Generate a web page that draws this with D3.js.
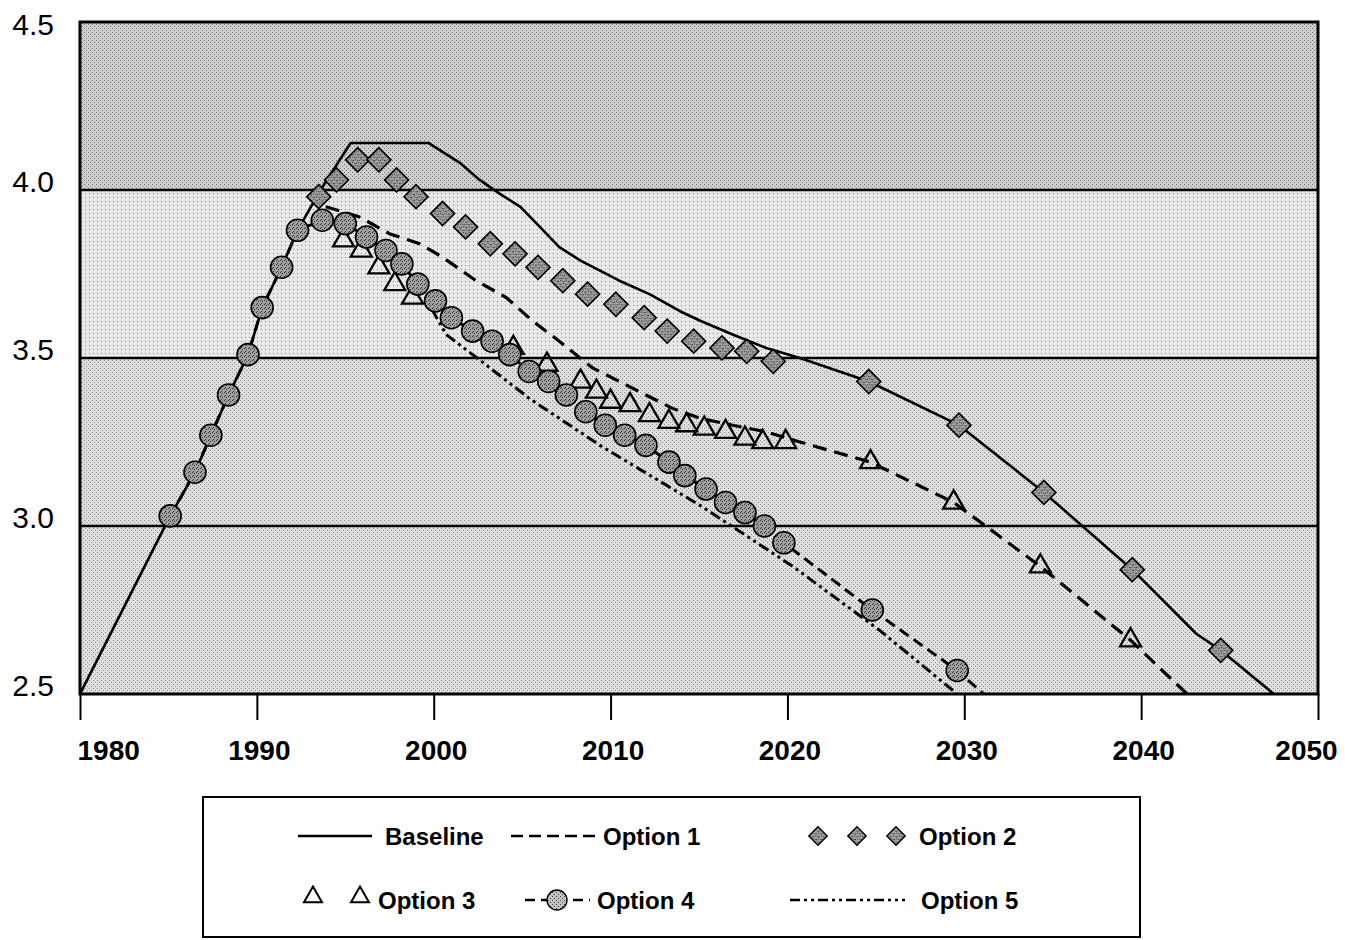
<!DOCTYPE html>
<html><head><meta charset="utf-8">
<script src="https://cdn.jsdelivr.net/npm/d3@7"></script>
<style>html,body{margin:0;padding:0;background:#fff;} svg{display:block;}</style>
</head><body>
<svg id="chart" width="1345" height="940"></svg>
<script>
// ---------------- data ----------------
const xTicks = [1980, 1990, 2000, 2010, 2020, 2030, 2040, 2050];
const yTicks = [2.5, 3.0, 3.5, 4.0, 4.5];
const yTickLabels = ["2.5", "3.0", "3.5", "4.0", "4.5"];
const seriesNames = ["Baseline", "Option 1", "Option 2", "Option 3", "Option 4", "Option 5"];

const baselineYears  = [1980, 1985.1, 1986.5, 1987.4, 1988.4, 1989.5, 1990.3, 1991.4, 1992.3, 1993.6, 1995.3, 1999.7, 2001.5, 2002.6, 2003.7, 2004.9, 2006.0, 2007.1, 2008.3, 2009.4, 2010.5, 2012.2, 2013.9, 2015.1, 2016.9, 2018.8, 2020.7, 2024.6, 2029.7, 2034.5, 2039.5, 2043.1, 2044.5, 2047.5];
const baselineValues = [2.50, 3.03, 3.16, 3.27, 3.39, 3.51, 3.65, 3.77, 3.88, 4.00, 4.14, 4.14, 4.08, 4.03, 3.99, 3.95, 3.89, 3.83, 3.79, 3.76, 3.73, 3.69, 3.64, 3.61, 3.57, 3.53, 3.50, 3.43, 3.30, 3.10, 2.87, 2.68, 2.63, 2.50];

const option1Years  = [1993.9, 1995.8, 1997.5, 1999.2, 2000.5, 2002.4, 2004.1, 2005.6, 2007.1, 2009.0, 2010.5, 2012.0, 2013.5, 2015.1, 2016.9, 2018.8, 2020.7, 2024.7, 2029.4, 2034.3, 2039.4, 2042.6];
const option1Values = [3.95, 3.92, 3.87, 3.84, 3.80, 3.73, 3.68, 3.61, 3.55, 3.47, 3.43, 3.39, 3.35, 3.32, 3.30, 3.28, 3.25, 3.19, 3.07, 2.88, 2.66, 2.50];

const option2Years  = [1993.5, 1994.5, 1995.7, 1996.9, 1997.9, 1999.0, 2000.5, 2001.8, 2003.2, 2004.6, 2005.9, 2007.3, 2008.7, 2010.3, 2011.9, 2013.2, 2014.7, 2016.3, 2017.7, 2019.2, 2024.6, 2029.7, 2034.5, 2039.5, 2044.5];
const option2Values = [3.98, 4.03, 4.09, 4.09, 4.03, 3.98, 3.93, 3.89, 3.84, 3.81, 3.77, 3.73, 3.69, 3.66, 3.62, 3.58, 3.55, 3.53, 3.52, 3.49, 3.43, 3.30, 3.10, 2.87, 2.63];

const option3Years  = [1994.9, 1995.9, 1996.9, 1997.8, 1998.8, 2004.5, 2006.4, 2008.3, 2009.2, 2010.0, 2011.1, 2012.2, 2013.3, 2014.3, 2015.3, 2016.5, 2017.6, 2018.6, 2019.9, 2024.7, 2029.4, 2034.3, 2039.4];
const option3Values = [3.85, 3.82, 3.77, 3.72, 3.68, 3.53, 3.48, 3.43, 3.40, 3.37, 3.36, 3.33, 3.31, 3.30, 3.29, 3.28, 3.26, 3.25, 3.25, 3.19, 3.07, 2.88, 2.66];

const option4Years  = [1985.1, 1986.5, 1987.4, 1988.4, 1989.5, 1990.3, 1991.4, 1992.3, 1993.7, 1995.0, 1996.2, 1997.3, 1998.2, 1999.1, 2000.1, 2001.0, 2002.2, 2003.3, 2004.3, 2005.4, 2006.5, 2007.5, 2008.6, 2009.7, 2010.8, 2012.0, 2013.3, 2014.2, 2015.4, 2016.5, 2017.6, 2018.7, 2019.8, 2024.8, 2029.6];
const option4Values = [3.03, 3.16, 3.27, 3.39, 3.51, 3.65, 3.77, 3.88, 3.91, 3.90, 3.86, 3.82, 3.78, 3.72, 3.67, 3.62, 3.58, 3.55, 3.51, 3.46, 3.43, 3.39, 3.34, 3.30, 3.27, 3.24, 3.19, 3.15, 3.11, 3.07, 3.04, 3.00, 2.95, 2.75, 2.57];
const option4LineEnd = [2031.1, 2.50];

const option5Years  = [1999.1, 2000.7, 2002.7, 2005.4, 2009.4, 2015.1, 2020.3, 2025.2, 2029.6];
const option5Values = [3.72, 3.57, 3.49, 3.38, 3.24, 3.06, 2.88, 2.69, 2.50];

// ---------------- chart ----------------
const svg = d3.select('#chart');
const M = {left: 80, right: 1318, top: 22, bottom: 694};
const x = d3.scaleLinear().domain([xTicks[0], xTicks[xTicks.length - 1]]).range([M.left, M.right]);
const y = d3.scaleLinear().domain([yTicks[0], yTicks[yTicks.length - 1]]).range([M.bottom, M.top]);
const zip = (a, b) => a.map((v, i) => [v, b[i]]);

const defs = svg.append('defs');
function makePattern(id, base, dots, dotColor) {
  const p = defs.append('pattern').attr('id', id).attr('width', 4).attr('height', 4)
    .attr('patternUnits', 'userSpaceOnUse');
  p.append('rect').attr('width', 4).attr('height', 4).attr('fill', base);
  dots.forEach(([dx, dy]) => p.append('rect').attr('x', dx).attr('y', dy)
    .attr('width', 1).attr('height', 1).attr('fill', dotColor));
}
makePattern('bandDense', '#d0d0d0', [[0, 0], [2, 2]], '#707070');
makePattern('bandLight', '#e8e8e8', [[1, 1]], '#888');
makePattern('bandMed', '#dedede', [[0, 0], [2, 2]], '#8a8a8a');
makePattern('bandMed2', '#e0e0e0', [[1, 0], [3, 2]], '#8a8a8a');
makePattern('markTex', '#a0a0a0', [[0, 0], [2, 1], [1, 3]], '#333');
makePattern('markTexLight', '#c2c2c2', [[0, 0], [2, 2]], '#444');

defs.append('clipPath').attr('id', 'plotClip').append('rect')
  .attr('x', M.left).attr('y', M.top).attr('width', M.right - M.left).attr('height', M.bottom - M.top);

// background bands
const bandFills = ['url(#bandMed2)', 'url(#bandMed)', 'url(#bandLight)', 'url(#bandDense)'];
svg.append('g').selectAll('rect').data(d3.range(yTicks.length - 1)).join('rect')
  .attr('x', M.left).attr('width', M.right - M.left)
  .attr('y', i => y(yTicks[i + 1])).attr('height', i => y(yTicks[i]) - y(yTicks[i + 1]))
  .attr('fill', i => bandFills[i]);

// gridlines
svg.append('g').selectAll('line').data(yTicks.slice(1, -1)).join('line')
  .attr('x1', M.left).attr('x2', M.right).attr('y1', d => y(d)).attr('y2', d => y(d))
  .attr('stroke', '#000').attr('stroke-width', 2.6);

// lines
const line = d3.line().x(d => x(d[0])).y(d => y(d[1]));
const plot = svg.append('g').attr('clip-path', 'url(#plotClip)');
const dashOpt1 = '14,8';
const dashOpt4 = '11,6';
const dashOpt5 = '11,4,3,4,3,4';

plot.append('path').datum(zip(option5Years, option5Values)).attr('d', line)
  .attr('fill', 'none').attr('stroke', '#000').attr('stroke-width', 3).attr('stroke-dasharray', dashOpt5);
plot.append('path').datum(zip(option4Years, option4Values).concat([option4LineEnd])).attr('d', line)
  .attr('fill', 'none').attr('stroke', '#000').attr('stroke-width', 3).attr('stroke-dasharray', dashOpt4);
plot.append('path').datum(zip(option1Years, option1Values)).attr('d', line)
  .attr('fill', 'none').attr('stroke', '#000').attr('stroke-width', 3.2).attr('stroke-dasharray', dashOpt1);
plot.append('path').datum(zip(baselineYears, baselineValues)).attr('d', line)
  .attr('fill', 'none').attr('stroke', '#000').attr('stroke-width', 2.6).attr('stroke-linejoin', 'round');

// markers
const diamond = d3.symbol().type(d3.symbolSquare).size(17 * 17);
const tri = d3.symbol().type(d3.symbolTriangle).size(190);
plot.append('g').selectAll('path').data(zip(option2Years, option2Values)).join('path')
  .attr('d', diamond)
  .attr('transform', d => `translate(${x(d[0])},${y(d[1])}) rotate(45)`)
  .attr('fill', 'url(#markTex)').attr('stroke', '#000').attr('stroke-width', 1.6);
plot.append('g').selectAll('path').data(zip(option3Years, option3Values)).join('path')
  .attr('d', tri)
  .attr('transform', d => `translate(${x(d[0])},${y(d[1])})`)
  .attr('fill', 'none').attr('stroke', '#000').attr('stroke-width', 2.3).attr('stroke-linejoin', 'miter');
plot.append('g').selectAll('circle').data(zip(option4Years, option4Values)).join('circle')
  .attr('cx', d => x(d[0])).attr('cy', d => y(d[1])).attr('r', 11)
  .attr('fill', 'url(#markTex)').attr('stroke', '#000').attr('stroke-width', 1.6);

// frame
svg.append('rect').attr('x', M.left).attr('y', M.top)
  .attr('width', M.right - M.left).attr('height', M.bottom - M.top)
  .attr('fill', 'none').attr('stroke', '#000').attr('stroke-width', 3);

// x axis
const xAxis = svg.append('g').attr('transform', `translate(0,${M.bottom})`)
  .call(d3.axisBottom(x).tickValues(xTicks).tickSize(26).tickFormat(d3.format('d')));
xAxis.select('.domain').remove();
xAxis.selectAll('line').attr('stroke', '#000').attr('stroke-width', 2);
xAxis.selectAll('text')
  .attr('y', 66).attr('dy', 0)
  .attr('font-family', '"Liberation Sans", Arial, Helvetica, sans-serif')
  .attr('font-weight', 'bold').attr('font-size', 28).attr('fill', '#000')
  .attr('text-anchor', (d, i) => i === 0 ? 'start' : 'middle')
  .attr('dx', (d, i) => i === 0 ? -3 : (i === xTicks.length - 1 ? -12 : 2));

// y labels
svg.append('g').selectAll('text').data(yTicks).join('text')
  .attr('x', 54).attr('y', d => Math.max(y(d) + 2, 35))
  .attr('text-anchor', 'end')
  .attr('font-family', '"Liberation Sans", Arial, Helvetica, sans-serif')
  .attr('font-size', 30).attr('fill', '#000')
  .text((d, i) => yTickLabels[i]);

// legend
const lg = svg.append('g');
lg.append('rect').attr('x', 203).attr('y', 797).attr('width', 937).attr('height', 140)
  .attr('fill', '#fff').attr('stroke', '#000').attr('stroke-width', 2);
const lgFont = '"Liberation Sans", Arial, Helvetica, sans-serif';
function lgText(tx, ty, s) {
  lg.append('text').attr('x', tx).attr('y', ty).attr('font-family', lgFont)
    .attr('font-weight', 'bold').attr('font-size', 24).attr('fill', '#000').text(s);
}
const r1 = 836, r2 = 900;
// Baseline
lg.append('line').attr('x1', 298).attr('x2', 372).attr('y1', r1).attr('y2', r1)
  .attr('stroke', '#000').attr('stroke-width', 2.4);
lgText(385, r1 + 9, seriesNames[0]);
// Option 1
lg.append('line').attr('x1', 511).attr('x2', 598).attr('y1', r1).attr('y2', r1)
  .attr('stroke', '#000').attr('stroke-width', 2.6).attr('stroke-dasharray', '12,6');
lgText(603, r1 + 9, seriesNames[1]);
// Option 2
[818, 857, 896].forEach(cx => lg.append('path').attr('d', d3.symbol().type(d3.symbolSquare).size(13 * 13)())
  .attr('transform', `translate(${cx},${r1}) rotate(45)`)
  .attr('fill', 'url(#markTex)').attr('stroke', '#000').attr('stroke-width', 1.4));
lgText(919, r1 + 9, seriesNames[2]);
// Option 3
[313, 360].forEach(cx => lg.append('path').attr('d', d3.symbol().type(d3.symbolTriangle).size(140)())
  .attr('transform', `translate(${cx},${r2 - 3})`)
  .attr('fill', 'none').attr('stroke', '#000').attr('stroke-width', 2));
lgText(378, r2 + 9, seriesNames[3]);
// Option 4
lg.append('line').attr('x1', 525).attr('x2', 590).attr('y1', r2).attr('y2', r2)
  .attr('stroke', '#000').attr('stroke-width', 2.6).attr('stroke-dasharray', '10,6');
lg.append('circle').attr('cx', 557).attr('cy', r2).attr('r', 10)
  .attr('fill', 'url(#markTexLight)').attr('stroke', '#000').attr('stroke-width', 1.4);
lgText(597, r2 + 9, seriesNames[4]);
// Option 5
lg.append('line').attr('x1', 790).attr('x2', 905).attr('y1', r2).attr('y2', r2)
  .attr('stroke', '#000').attr('stroke-width', 2.6).attr('stroke-dasharray', '10,4,3,4,3,4');
lgText(921, r2 + 9, seriesNames[5]);
</script>
</body></html>
